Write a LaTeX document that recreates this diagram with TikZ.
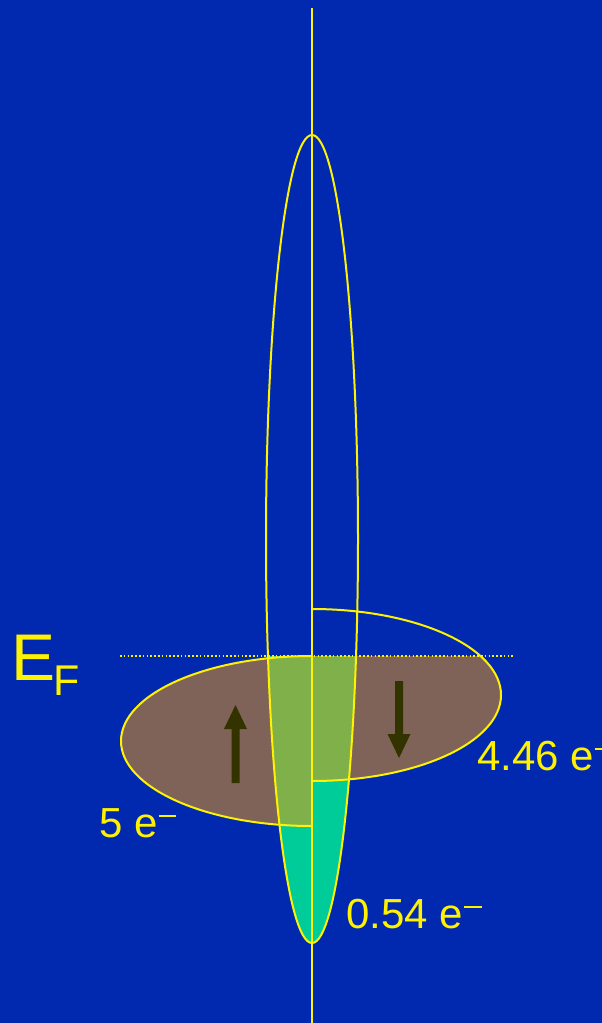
\documentclass[tikz,border=0pt]{standalone}
\usepackage{fontspec}
\setmainfont{Liberation Sans}
\definecolor{bgc}{RGB}{0,41,175}
\definecolor{brownc}{RGB}{128,99,88}
\definecolor{greenc}{RGB}{128,176,74}
\definecolor{cyanc}{RGB}{0,204,153}
\definecolor{arrowc}{RGB}{51,51,0}
\newcommand\supminus{\kern0.03em\raisebox{0.47em}{\rule{0.42em}{0.05em}}}
\begin{document}
\begin{tikzpicture}[x=1pt,y=1pt,
  outl/.style={draw=yellow, line width=2pt},
  axisline/.style={draw=yellow, line width=1.6pt},
  efline/.style={draw=yellow, line width=1.6pt, dash pattern=on 1.6pt off 2.2pt},
  lbl/.style={text=yellow, inner sep=0pt, anchor=base west, font=\fontsize{42}{46}\selectfont},
  spinarrow/.style={fill=arrowc}]
\useasboundingbox (0,0) rectangle (602,-1023);
\fill[bgc] (0,0) rectangle (602,-1023);
% fills below the Fermi level
\begin{scope}
  \clip (0,-656) rectangle (602,-1023);
  \fill[cyanc] (312,-539) ellipse [x radius=46pt, y radius=404pt];
  \fill[brownc] (312,-609) arc[start angle=90, end angle=-90, x radius=189pt, y radius=86pt] -- cycle;
  \fill[brownc] (312,-656) arc[start angle=90, end angle=270, x radius=191pt, y radius=85pt] -- cycle;
  \clip (312,-539) ellipse [x radius=46pt, y radius=404pt];
  \fill[greenc] (312,-609) arc[start angle=90, end angle=-90, x radius=189pt, y radius=86pt] -- cycle;
  \fill[greenc] (312,-656) arc[start angle=90, end angle=270, x radius=191pt, y radius=85pt] -- cycle;
\end{scope}
% outlines
\draw[outl] (312,-539) ellipse [x radius=46pt, y radius=404pt];
\draw[outl] (312,-656) arc[start angle=90, end angle=270, x radius=191pt, y radius=85pt];
\draw[outl] (312,-609) arc[start angle=90, end angle=-90, x radius=189pt, y radius=86pt];
% axis and Fermi level
\coordinate (axtop) at (312,-8);
\coordinate (axbot) at (312,-1023);
\draw[axisline] (axtop) -- (axbot);
\coordinate (efl) at (120,-656);
\coordinate (efr) at (514,-656);
\draw[efline] (efl) -- (efr);
% spin arrows
\fill[spinarrow] (231.5,-783) -- (231.5,-729) -- (224,-729) -- (235.5,-705) -- (247,-729) -- (239.5,-729) -- (239.5,-783) -- cycle;
\fill[spinarrow] (395,-681) -- (395,-734) -- (387.5,-734) -- (399,-758) -- (410.5,-734) -- (403,-734) -- (403,-681) -- cycle;
% labels
\node[text=yellow, inner sep=0pt, anchor=base west, font=\fontsize{66}{70}\selectfont] (eflbl) at (11,-680) {E};
\node[text=yellow, inner sep=0pt, anchor=base west, font=\fontsize{43}{47}\selectfont] (fsub) at (53.5,-695) {F};
\node[lbl] (up) at (99,-837) {5 e\supminus};
\node[lbl] (down) at (477,-770) {4.46 e\supminus};
\node[lbl] (minor) at (346,-928) {0.54 e\supminus};
\end{tikzpicture}
\end{document}
